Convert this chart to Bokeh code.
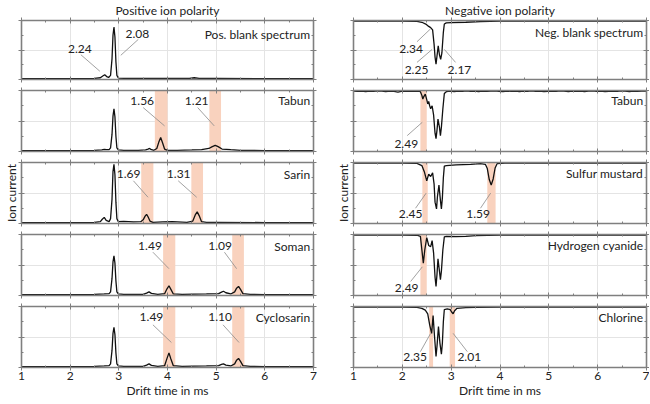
from bokeh.plotting import figure
from bokeh.layouts import gridplot
from bokeh.models import Range1d, FixedTicker, LinearAxis, BoxAnnotation, ColumnDataSource
from bokeh.core.properties import value
from bokeh.embed import file_html
from bokeh.resources import INLINE

# ---------------- data ----------------
# Positive ion polarity (ion current, 0 = baseline, peaks upward)
pos_names = ["Pos. blank spectrum", "Tabun", "Sarin", "Soman", "Cyclosarin"]

pos_blank_x = [1.00, 2.00, 2.50, 2.62, 2.67, 2.71, 2.75, 2.79, 2.83, 2.86, 2.88, 2.90, 2.92, 2.94, 2.96, 2.99, 3.10, 3.50, 4.00, 4.45, 4.55, 4.65, 5.00, 6.00, 7.00]
pos_blank_y = [0.015, 0.015, 0.02, 0.03, 0.06, 0.08, 0.05, 0.035, 0.07, 0.35, 0.75, 0.89, 0.72, 0.30, 0.07, 0.025, 0.02, 0.02, 0.018, 0.02, 0.03, 0.02, 0.018, 0.015, 0.015]

pos_tabun_x = [1.00, 2.00, 2.50, 2.65, 2.70, 2.75, 2.80, 2.83, 2.86, 2.88, 2.90, 2.92, 2.94, 2.96, 2.99, 3.10, 3.40, 3.55, 3.60, 3.63, 3.66, 3.72, 3.78, 3.82, 3.86, 3.90, 3.94, 4.00, 4.20, 4.50, 4.70, 4.85, 4.92, 4.98, 5.04, 5.12, 5.30, 5.50, 6.00, 7.00]
pos_tabun_y = [0.015, 0.015, 0.02, 0.025, 0.035, 0.03, 0.03, 0.06, 0.28, 0.58, 0.70, 0.57, 0.25, 0.06, 0.025, 0.02, 0.02, 0.025, 0.04, 0.05, 0.035, 0.02, 0.05, 0.15, 0.23, 0.14, 0.04, 0.02, 0.02, 0.025, 0.03, 0.05, 0.08, 0.10, 0.08, 0.04, 0.03, 0.02, 0.015, 0.015]

pos_sarin_x = [1.00, 2.00, 2.50, 2.62, 2.66, 2.70, 2.74, 2.80, 2.83, 2.86, 2.88, 2.90, 2.92, 2.94, 2.96, 2.99, 3.10, 3.20, 3.30, 3.45, 3.50, 3.54, 3.57, 3.60, 3.64, 3.70, 3.90, 4.10, 4.40, 4.52, 4.57, 4.61, 4.65, 4.70, 4.80, 5.00, 6.00, 7.00]
pos_sarin_y = [0.015, 0.015, 0.02, 0.03, 0.07, 0.10, 0.05, 0.03, 0.08, 0.40, 0.85, 0.97, 0.80, 0.35, 0.08, 0.03, 0.035, 0.03, 0.025, 0.03, 0.06, 0.12, 0.15, 0.11, 0.04, 0.02, 0.025, 0.03, 0.02, 0.04, 0.14, 0.19, 0.13, 0.03, 0.02, 0.02, 0.015, 0.015]

pos_soman_x = [1.00, 2.00, 2.50, 2.70, 2.80, 2.83, 2.86, 2.88, 2.90, 2.92, 2.94, 2.96, 2.99, 3.10, 3.50, 3.57, 3.62, 3.67, 3.80, 3.94, 3.99, 4.03, 4.07, 4.12, 4.30, 4.80, 5.05, 5.11, 5.15, 5.20, 5.30, 5.38, 5.42, 5.46, 5.50, 5.55, 5.70, 6.00, 7.00]
pos_soman_y = [0.015, 0.015, 0.02, 0.025, 0.03, 0.06, 0.28, 0.55, 0.65, 0.53, 0.24, 0.06, 0.025, 0.02, 0.02, 0.04, 0.06, 0.035, 0.02, 0.03, 0.11, 0.16, 0.10, 0.025, 0.02, 0.025, 0.03, 0.055, 0.07, 0.045, 0.025, 0.06, 0.12, 0.15, 0.10, 0.03, 0.02, 0.015, 0.015]

pos_cyclo_x = [1.00, 2.00, 2.50, 2.70, 2.80, 2.83, 2.86, 2.88, 2.90, 2.92, 2.94, 2.96, 2.99, 3.10, 3.50, 3.57, 3.62, 3.67, 3.80, 3.94, 3.99, 4.03, 4.07, 4.12, 4.30, 4.80, 5.05, 5.11, 5.15, 5.20, 5.30, 5.38, 5.42, 5.46, 5.50, 5.55, 5.70, 6.00, 7.00]
pos_cyclo_y = [0.015, 0.015, 0.02, 0.025, 0.03, 0.06, 0.28, 0.56, 0.66, 0.54, 0.24, 0.06, 0.025, 0.02, 0.02, 0.04, 0.06, 0.035, 0.02, 0.03, 0.15, 0.24, 0.14, 0.03, 0.02, 0.025, 0.03, 0.05, 0.06, 0.04, 0.025, 0.06, 0.12, 0.15, 0.10, 0.03, 0.02, 0.015, 0.015]

# Negative ion polarity (signal depth below baseline, 0 = baseline, peaks downward)
neg_names = ["Neg. blank spectrum", "Tabun", "Sulfur mustard", "Hydrogen cyanide", "Chlorine"]

neg_blank_x = [1.00, 2.00, 2.30, 2.40, 2.48, 2.54, 2.58, 2.62, 2.65, 2.67, 2.69, 2.71, 2.735, 2.76, 2.785, 2.81, 2.84, 2.86, 2.90, 3.00, 3.30, 3.60, 4.00, 5.00, 7.00]
neg_blank_d = [0.01, 0.01, 0.015, 0.03, 0.06, 0.10, 0.12, 0.16, 0.40, 0.62, 0.74, 0.60, 0.43, 0.58, 0.66, 0.55, 0.20, 0.06, 0.04, 0.035, 0.03, 0.02, 0.01, 0.01, 0.01]

neg_tabun_x = [1.00, 1.08, 1.16, 1.25, 1.33, 1.41, 1.50, 1.58, 1.66, 1.75, 1.83, 1.91, 2.00, 2.08, 2.16, 2.25, 2.32,
               2.37, 2.40, 2.42, 2.44, 2.47, 2.50, 2.52, 2.54, 2.56, 2.58, 2.61, 2.64, 2.67, 2.69, 2.71, 2.73, 2.76, 2.78, 2.80, 2.83, 2.86, 2.90,
               2.98, 3.06, 3.15, 3.23, 3.31, 3.40, 3.48, 3.56, 3.65, 3.73, 3.81, 3.90, 3.98, 4.06, 4.15, 4.23, 4.31, 4.40, 4.48, 4.56, 4.65, 4.73,
               4.81, 4.90, 4.98, 5.06, 5.15, 5.23, 5.31, 5.40, 5.48, 5.56, 5.65, 5.73, 5.81, 5.90, 5.98, 6.06, 6.15, 6.23, 6.31, 6.40, 6.48, 6.56,
               6.65, 6.73, 6.81, 6.90, 7.00]
neg_tabun_d = [0.01, 0.015, 0.01, 0.02, 0.008, 0.015, 0.005, 0.01, 0.02, 0.01, 0.015, 0.025, 0.01, 0.015, 0.008, 0.015, 0.01,
               0.02, 0.08, 0.14, 0.10, 0.06, 0.15, 0.22, 0.18, 0.25, 0.30, 0.25, 0.40, 0.70, 0.79, 0.65, 0.47, 0.60, 0.74, 0.60, 0.30, 0.05, 0.02,
               0.01, 0.02, 0.008, 0.015, 0.005, 0.015, 0.01, 0.02, 0.008, 0.015, 0.01, 0.005, 0.015, 0.02, 0.01, 0.015, 0.008, 0.02, 0.01, 0.015, 0.005, 0.015,
               0.01, 0.02, 0.015, 0.008, 0.015, 0.005, 0.01, 0.02, 0.008, 0.015, 0.01, 0.02, 0.01, 0.005, 0.015, 0.01, 0.02, 0.015, 0.008, 0.015, 0.005, 0.01,
               0.02, 0.01, 0.015, 0.01, 0.01]

neg_sm_x = [1.00, 2.00, 2.30, 2.40, 2.45, 2.50, 2.54, 2.58, 2.62, 2.65, 2.67, 2.70, 2.72, 2.75, 2.78, 2.80, 2.82, 2.84, 2.86, 2.90, 3.10, 3.40, 3.60, 3.70, 3.74, 3.78, 3.82, 3.86, 3.90, 3.94, 4.10, 5.00, 7.00]
neg_sm_d = [0.01, 0.01, 0.015, 0.05, 0.15, 0.30, 0.19, 0.23, 0.17, 0.35, 0.65, 0.76, 0.55, 0.37, 0.62, 0.76, 0.58, 0.25, 0.06, 0.05, 0.04, 0.03, 0.02, 0.03, 0.10, 0.28, 0.37, 0.27, 0.09, 0.02, 0.01, 0.01, 0.01]

neg_hc_x = [1.00, 2.00, 2.30, 2.37, 2.40, 2.43, 2.46, 2.50, 2.54, 2.58, 2.61, 2.64, 2.67, 2.69, 2.71, 2.73, 2.76, 2.78, 2.80, 2.83, 2.86, 2.90, 3.10, 3.30, 3.50, 4.00, 7.00]
neg_hc_d = [0.01, 0.01, 0.012, 0.03, 0.25, 0.47, 0.25, 0.05, 0.18, 0.20, 0.10, 0.30, 0.70, 0.85, 0.65, 0.40, 0.60, 0.74, 0.60, 0.25, 0.04, 0.03, 0.035, 0.03, 0.02, 0.01, 0.01]

neg_cl_x = [1.00, 2.00, 2.30, 2.40, 2.47, 2.52, 2.56, 2.60, 2.63, 2.66, 2.69, 2.71, 2.74, 2.77, 2.80, 2.82, 2.84, 2.86, 2.92, 2.98, 3.01, 3.04, 3.07, 3.12, 3.30, 3.50, 4.00, 7.00]
neg_cl_d = [0.01, 0.01, 0.015, 0.03, 0.06, 0.12, 0.30, 0.44, 0.15, 0.50, 0.82, 0.65, 0.33, 0.60, 0.78, 0.60, 0.25, 0.05, 0.04, 0.05, 0.09, 0.12, 0.07, 0.03, 0.02, 0.015, 0.01, 0.01]

# highlighted drift-time windows (left, right) per panel
pos_band_left = [[], [3.74, 4.86], [3.46, 4.49], [3.91, 5.33], [3.91, 5.33]]
pos_band_right = [[], [4.00, 5.10], [3.71, 4.73], [4.16, 5.57], [4.16, 5.58]]
neg_band_left = [[], [2.37], [2.41, 3.74], [2.37], [2.55, 2.97]]
neg_band_right = [[], [2.50], [2.52, 3.91], [2.50], [2.63, 3.08]]

# reduced mobility labels per panel
pos_labels = [["2.24", "2.08"], ["1.56", "1.21"], ["1.69", "1.31"], ["1.49", "1.09"], ["1.49", "1.10"]]
neg_labels = [["2.34", "2.25", "2.17"], ["2.49"], ["2.45", "1.59"], ["2.49"], ["2.35", "2.01"]]

x_ticks = [1, 2, 3, 4, 5, 6, 7]
x_minor = [1.5, 2.5, 3.5, 4.5, 5.5, 6.5]

# ---------------- layout of labels (text pos, leader start, leader end) ----------------
pos_label_pos = [
    [(2.20, 0.51, 2.22, 0.42, 2.61, 0.14), (3.38, 0.77, 3.40, 0.68, 3.04, 0.41)],
    [(3.48, 0.83, 3.50, 0.72, 3.94, 0.42), (4.60, 0.83, 4.62, 0.72, 4.96, 0.42)],
    [(3.20, 0.81, 3.30, 0.70, 3.60, 0.43), (4.23, 0.81, 4.22, 0.70, 4.60, 0.43)],
    [(3.64, 0.81, 3.70, 0.71, 4.03, 0.44), (5.08, 0.81, 5.17, 0.71, 5.42, 0.44)],
    [(3.67, 0.82, 3.70, 0.70, 4.08, 0.41), (5.08, 0.82, 5.14, 0.70, 5.47, 0.41)],
]
neg_label_pos = [
    [(2.18, 0.48, 2.30, 0.36, 2.58, 0.14), (2.29, 0.84, 2.30, 0.71, 2.61, 0.49), (3.17, 0.84, 3.09, 0.71, 2.86, 0.49)],
    [(2.08, 0.88, 2.10, 0.74, 2.41, 0.52)],
    [(2.17, 0.84, 2.27, 0.75, 2.49, 0.50), (3.55, 0.84, 3.60, 0.75, 3.81, 0.50)],
    [(2.09, 0.87, 2.17, 0.77, 2.41, 0.53)],
    [(2.26, 0.82, 2.37, 0.74, 2.58, 0.44), (3.37, 0.82, 3.33, 0.74, 3.04, 0.44)],
]
pos_name_y = [0.77, 0.83, 0.81, 0.81, 0.82]
neg_name_y = [0.20, 0.17, 0.18, 0.18, 0.18]
NAME_X = 6.93

FONT = "Lato"
AXC = "#7f7f7f"
GRIDC = "#e4e4e4"
BANDC = "#f9d2be"
TXT = "#222222"
FS = "12px"

FRAME_H = 61


def style_axis(ax, ticks, minor, show_labels):
    ax.ticker = FixedTicker(ticks=ticks, minor_ticks=minor)
    ax.axis_line_color = AXC
    ax.axis_line_width = 1.6
    ax.major_tick_line_color = AXC
    ax.major_tick_line_width = 1
    ax.minor_tick_line_color = AXC
    ax.minor_tick_line_width = 1
    ax.major_tick_in = 3
    ax.major_tick_out = 3
    ax.minor_tick_in = 2
    ax.minor_tick_out = 0
    ax.major_label_standoff = 1
    ax.axis_label_standoff = 0
    ax.major_label_text_font = FONT
    ax.major_label_text_font_size = FS
    ax.major_label_text_color = TXT if show_labels else None
    ax.axis_label_text_font = FONT
    ax.axis_label_text_font_size = FS
    ax.axis_label_text_font_style = "normal"
    ax.axis_label_text_color = TXT


def make_panel(col, row, xs, ys, bl, br, labels, lpos, name, name_y):
    left_side = col == 0
    frame_w = 294 if left_side else 293
    mb_left = 19 if left_side else 26
    mb_right = 14 if left_side else 3
    mb_top = 18 if row == 0 else 6
    mb_bottom = 34 if row == 4 else 5
    width = mb_left + frame_w + mb_right
    height = mb_top + FRAME_H + mb_bottom
    yr = Range1d(0, 1) if left_side else Range1d(1, 0)

    bottom_ax = LinearAxis()
    left_ax = LinearAxis()
    top_ax = LinearAxis()
    right_ax = LinearAxis()

    p = figure(width=width, height=height, x_range=Range1d(1, 7), y_range=yr,
               output_backend="svg", toolbar_location=None, tools="",
               x_axis_location=None, y_axis_location=None,
               min_border_left=mb_left, min_border_right=mb_right,
               min_border_top=mb_top, min_border_bottom=mb_bottom)
    p.outline_line_color = None
    p.background_fill_color = "white"
    p.border_fill_color = "white"

    style_axis(bottom_ax, x_ticks, x_minor, row == 4)
    style_axis(top_ax, x_ticks, x_minor, False)
    style_axis(left_ax, [0, 0.5, 1], [0.25, 0.75], False)
    style_axis(right_ax, [0, 0.5, 1], [0.25, 0.75], False)
    if row == 4:
        bottom_ax.axis_label = "Drift time in ms"
    if row == 2:
        left_ax.axis_label = "Ion current"
    p.add_layout(bottom_ax, "below")
    p.add_layout(left_ax, "left")
    p.add_layout(top_ax, "above")
    p.add_layout(right_ax, "right")

    if row == 0:
        p.title.text = "Positive ion polarity" if left_side else "Negative ion polarity"
        p.title.text_font = FONT
        p.title.text_font_size = FS
        p.title.text_font_style = "normal"
        p.title.text_color = TXT
        p.title.align = "center"
        p.title.standoff = 0
        p.title.offset = 0

    p.xgrid.ticker = FixedTicker(ticks=x_ticks[1:-1])
    p.ygrid.ticker = FixedTicker(ticks=[0.5])
    p.xgrid.grid_line_color = GRIDC
    p.ygrid.grid_line_color = GRIDC

    for l, r in zip(bl, br):
        p.add_layout(BoxAnnotation(left=l, right=r, fill_color=BANDC, fill_alpha=1.0,
                                   line_color=None, level="underlay"))

    p.line(xs, ys, line_color="#111111", line_width=1.3)

    if labels:
        src = ColumnDataSource(dict(
            text=labels,
            tx=[q[0] for q in lpos], ty=[q[1] for q in lpos],
            x0=[q[2] for q in lpos], y0=[q[3] for q in lpos],
            x1=[q[4] for q in lpos], y1=[q[5] for q in lpos]))
        p.segment(x0="x0", y0="y0", x1="x1", y1="y1", source=src,
                  line_color="#8a8a8a", line_width=0.8)
        p.text(x="tx", y="ty", text="text", source=src, text_align="center",
               text_baseline="middle", text_font=value(FONT),
               text_font_size=value(FS), text_color=TXT)
    p.text(x=[NAME_X], y=[name_y], text=[name], text_align="right",
           text_baseline="middle", text_font=value(FONT),
           text_font_size=value(FS), text_color=TXT)
    return p


pos_series = [(pos_blank_x, pos_blank_y), (pos_tabun_x, pos_tabun_y), (pos_sarin_x, pos_sarin_y),
              (pos_soman_x, pos_soman_y), (pos_cyclo_x, pos_cyclo_y)]
neg_series = [(neg_blank_x, neg_blank_d), (neg_tabun_x, neg_tabun_d), (neg_sm_x, neg_sm_d),
              (neg_hc_x, neg_hc_d), (neg_cl_x, neg_cl_d)]

rows = []
for i in range(5):
    pl = make_panel(0, i, pos_series[i][0], pos_series[i][1], pos_band_left[i], pos_band_right[i],
                    pos_labels[i], pos_label_pos[i], pos_names[i], pos_name_y[i])
    pr = make_panel(1, i, neg_series[i][0], neg_series[i][1], neg_band_left[i], neg_band_right[i],
                    neg_labels[i], neg_label_pos[i], neg_names[i], neg_name_y[i])
    rows.append([pl, pr])

grid = gridplot(rows, toolbar_location=None)

open("out.html", "w").write(file_html(grid, INLINE))
